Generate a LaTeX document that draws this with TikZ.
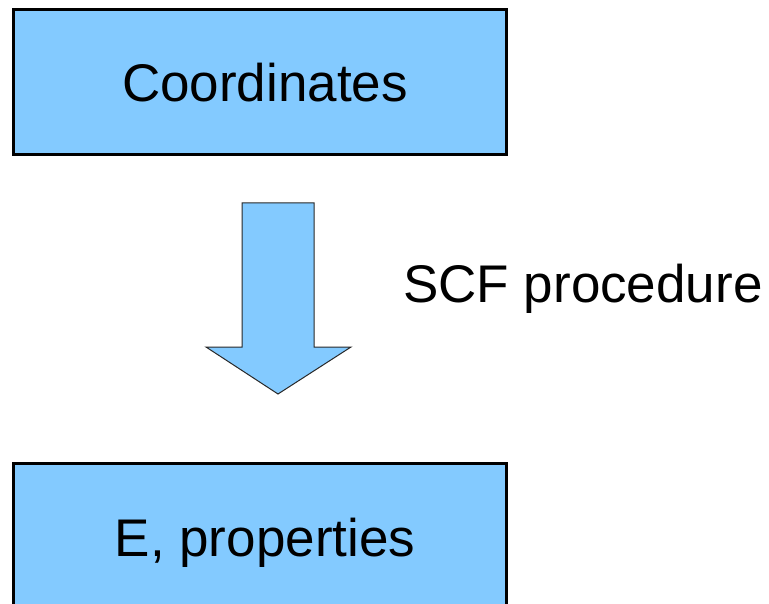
\documentclass[tikz,border=0pt]{standalone}
\usepackage{fontspec}
\setmainfont{Liberation Sans}
\definecolor{boxblue}{RGB}{131,202,255}
\definecolor{arrowedge}{RGB}{40,40,40}
\begin{document}
\begin{tikzpicture}[x=1pt,y=-1pt,
  bigtext/.style={font=\fontsize{53}{60}\selectfont, inner sep=0pt},
  stagebox/.style={draw=black, line width=3pt, fill=boxblue, minimum width=493pt,
    minimum height=145pt, inner sep=0pt},
  flowarrow/.style={draw=arrowedge, line width=1pt, fill=boxblue, line join=miter}]
  \useasboundingbox (0,0) rectangle (769,604);
  % input and output stages
  \node[stagebox] (coords) at (259.5,82.5) {};
  \node[stagebox] (props) at (259.5,535.5) {};
  \node[bigtext, anchor=base] (coordstext) at (265,102) {Coordinates};
  \node[bigtext, anchor=base] (propstext) at (265,556) {E, properties};
  % block arrow between the stages
  \coordinate (tip) at (278,394);
  \draw[flowarrow] (242,203) -- (314,203) -- (314,347) -- (351,347) -- (tip)
    -- (206,347) -- (242,347) -- cycle;
  \node[bigtext, anchor=base west] (scf) at (403,302) {SCF procedure};
\end{tikzpicture}
\end{document}
